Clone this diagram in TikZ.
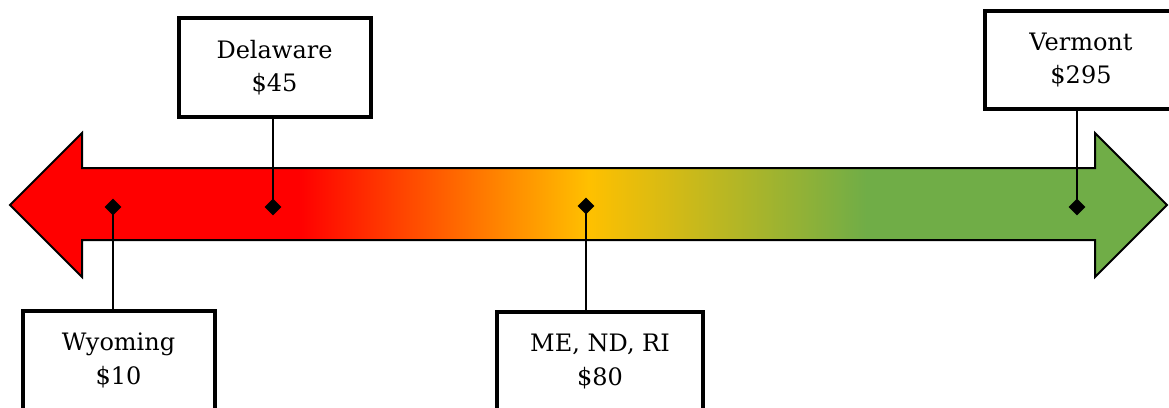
\documentclass[tikz,border=0pt]{standalone}
\usepackage{fontspec}
\setmainfont{DejaVu Serif}
\usetikzlibrary{shapes.geometric}

\definecolor{scRed}{RGB}{255,0,0}
\definecolor{scGold}{RGB}{255,192,0}
\definecolor{scGreen}{RGB}{112,173,71}
\pgfdeclarehorizontalshading{feescale}{100bp}{color(0bp)=(scRed); color(37.5bp)=(scRed); color(50bp)=(scGold); color(62bp)=(scGreen); color(100bp)=(scGreen)}

\tikzset{every picture/.style={line width=0.75pt}}
\tikzset{
  statebox/.style={draw=black, line width=3pt, fill=white, minimum width=144pt, minimum height=74pt, align=center, inner sep=0pt, font=\fontsize{18}{25}\selectfont},
  pin/.style={diamond, fill=black, draw=none, minimum size=13pt, inner sep=0pt},
  stem/.style={draw=black, line width=1.8pt}
}

\begin{document}
\begin{tikzpicture}[x=0.75pt,y=0.75pt,yscale=-1,xscale=1]
\useasboundingbox (0,0) rectangle (1169,407);
\clip (0,0) rectangle (1169,407);

%Double Arrow
\draw [shading=feescale, draw=black, line width=1.5pt, line join=miter] (10,205) -- (82,133) -- (82,168) -- (1095,168) -- (1095,133) -- (1167,205) -- (1095,277) -- (1095,240) -- (82,240) -- (82,277) -- cycle ;

% Pins
\node [pin] (wy) at (113,207) {};
\node [pin] (de) at (273,207) {};
\node [pin] (me) at (586,206) {};
\node [pin] (vt) at (1077,207) {};

% Boxes
\node [statebox] (debox) at (274.5,67.5) {Delaware\\\$45};
\node [statebox] (vtbox) at (1081,60) {Vermont\\\$295};
\node [statebox] (wybox) at (118.5,360.5) {Wyoming\\\$10};
\node [statebox, minimum width=154pt] (mebox) at (600,361.5) {ME, ND, RI\\\$80};

% Stems
\draw [stem] (wy.center) -- (wy |- wybox.north) ;
\draw [stem] (de.center) -- (de |- debox.south) ;
\draw [stem] (me.center) -- (me |- mebox.north) ;
\draw [stem] (vt.center) -- (vt |- vtbox.south) ;
\end{tikzpicture}
\end{document}
